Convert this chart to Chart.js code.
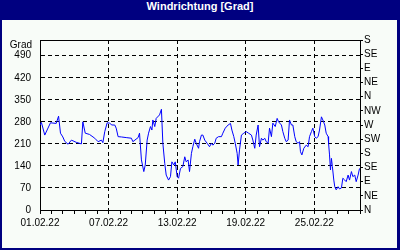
<!DOCTYPE html>
<html>
<head>
<meta charset="utf-8">
<script src="https://cdn.jsdelivr.net/npm/chart.js@4"></script>
<style>
  body { margin: 0; }
  #frame { position: relative; width: 400px; height: 250px; background: #000080; }
  #title { height: 20px; line-height: 19px; text-align: center; color: #fff; font: bold 11px "Liberation Sans", sans-serif; }
  #box { position: absolute; left: 2px; top: 20px; width: 395px; height: 228px; background: #f8fcf8; }
</style>
</head>
<body>
<div id="frame">
  <div id="title">Windrichtung [Grad]</div>
  <div id="box"><canvas id="myChart" width="395" height="228"></canvas></div>
</div>
<script>
// hours since 01.02.22 00:00
const hours = [0,3,10,22,34,39,43,48,52,59,
	66,76,87,90,95,104,115,122,129,132,
	136,141,146,151,157,160,164,171,181,192,
	195,206,209,213,218,221,225,228,232,235,
	237,241,244,251,255,258,262,265,270,274,
	277,281,284,288,291,295,300,304,307,311,
	314,318,321,325,328,333,335,339,342,346,
	351,356,360,363,367,370,375,381,384,389,
	395,400,403,407,410,414,416,419,423,428,
	433,438,444,447,451,454,458,461,465,468,
	472,475,479,482,486,489,494,498,501,507,
	510,514,517,521,524,528,531,535,538,542,
	545,547,550,554,559,563,566,570,573,577,
	580,584,587,591,594,598,601,605,606,608,
	610,612,614,617,619,622,626,629,633,636,
	640,643,647,650,654,657,661,664,668,671];

// wind direction in degrees
const direction = [270,278,238,277,275,298,244,232,218,209,
	222,215,210,280,244,240,228,217,222,214,
	249,277,276,270,270,260,233,232,230,228,
	217,230,244,159,122,143,222,244,265,254,
	286,265,291,302,320,212,148,111,95,106,
	153,143,153,106,101,132,138,169,153,159,
	122,180,201,225,212,196,217,238,238,222,
	212,201,212,206,212,228,233,233,244,260,
	270,275,254,233,212,180,143,191,238,244,
	249,244,238,222,196,238,270,201,228,222,
	228,217,212,260,233,276,265,291,280,270,
	249,228,217,222,286,270,270,233,217,212,
	217,185,175,196,206,201,233,249,260,233,
	228,233,254,296,286,270,244,233,212,175,
	127,164,138,95,74,64,74,67,70,101,
	95,90,111,95,122,106,111,90,111,132];

const dateLabels = ['01.02.22','07.02.22','13.02.22','19.02.22','25.02.22'];
const compass = ['N','NE','E','SE','S','SW','W','NW','N','NE','E','SE','S'];
const unitLabel = 'Grad';

const font = { family: '"Liberation Sans", Arial, sans-serif', size: 10 };

const gradLabel = {
	id: 'gradLabel',
	afterDraw(chart) {
		const y = chart.scales.y;
		const c = chart.ctx;
		c.save();
		c.font = '10px "Liberation Sans", Arial, sans-serif';
		c.fillStyle = '#000';
		c.textAlign = 'right';
		c.textBaseline = 'middle';
		c.fillText(unitLabel, y.right - 8, y.getPixelForValue(540) + 5);
		c.restore();
	}
};

const ctx = document.getElementById('myChart');
new Chart(ctx, {
	type: 'line',
	data: {
		datasets: [{
			data: hours.map((h, i) => ({ x: h, y: direction[i] })),
			borderColor: '#0000ff',
			borderWidth: 1,
			pointRadius: 0,
			tension: 0
		}]
	},
	options: {
		responsive: false,
		animation: false,
		devicePixelRatio: 1,
		layout: { padding: { top: 20, left: 0, right: 0, bottom: 0 } },
		plugins: { legend: { display: false }, tooltip: { enabled: false } },
		scales: {
			x: {
				type: 'linear',
				min: 0,
				max: 672,
				afterFit: s => { s.height = 38; },
				ticks: {
					stepSize: 24,
					autoSkip: false,
					maxRotation: 0,
					padding: 3,
					color: '#000',
					font: font,
					callback: v => (v % 144 === 0 ? (dateLabels[v / 144] || '') : '')
				},
				grid: {
					color: c => (c.tick && c.tick.value % 144 === 0 && c.tick.value > 0 && c.tick.value < 672 ? '#000' : 'rgba(0,0,0,0)'),
					tickColor: '#000',
					tickLength: 4
				},
				border: { color: '#000', dash: [4, 3] }
			},
			x2: {
				type: 'linear',
				position: 'top',
				min: 0,
				max: 672,
				afterFit: s => { s.height = 0; },
				ticks: { display: false },
				grid: { drawOnChartArea: false, drawTicks: false },
				border: { color: '#000' }
			},
			y: {
				min: 0,
				max: 540,
				afterFit: s => { s.width = 38; },
				afterBuildTicks: s => { s.ticks = s.ticks.filter(t => t.value % 70 === 0); },
				ticks: { stepSize: 70, padding: 9, color: '#000', font: font, autoSkip: false },
				grid: {
					drawTicks: false,
					color: c => (c.tick && c.tick.value > 0 ? '#000' : 'rgba(0,0,0,0)')
				},
				border: { color: '#000', dash: [4, 3] }
			},
			y2: {
				position: 'right',
				min: 0,
				max: 540,
				afterFit: s => { s.width = 37; },
				ticks: {
					stepSize: 45,
					autoSkip: false,
					padding: 1,
					color: '#000',
					font: font,
					callback: v => compass[v / 45]
				},
				grid: { drawOnChartArea: false, tickColor: '#000', tickLength: 3 },
				border: { color: '#000' }
			}
		}
	},
	plugins: [gradLabel]
});
</script>
</body>
</html>
